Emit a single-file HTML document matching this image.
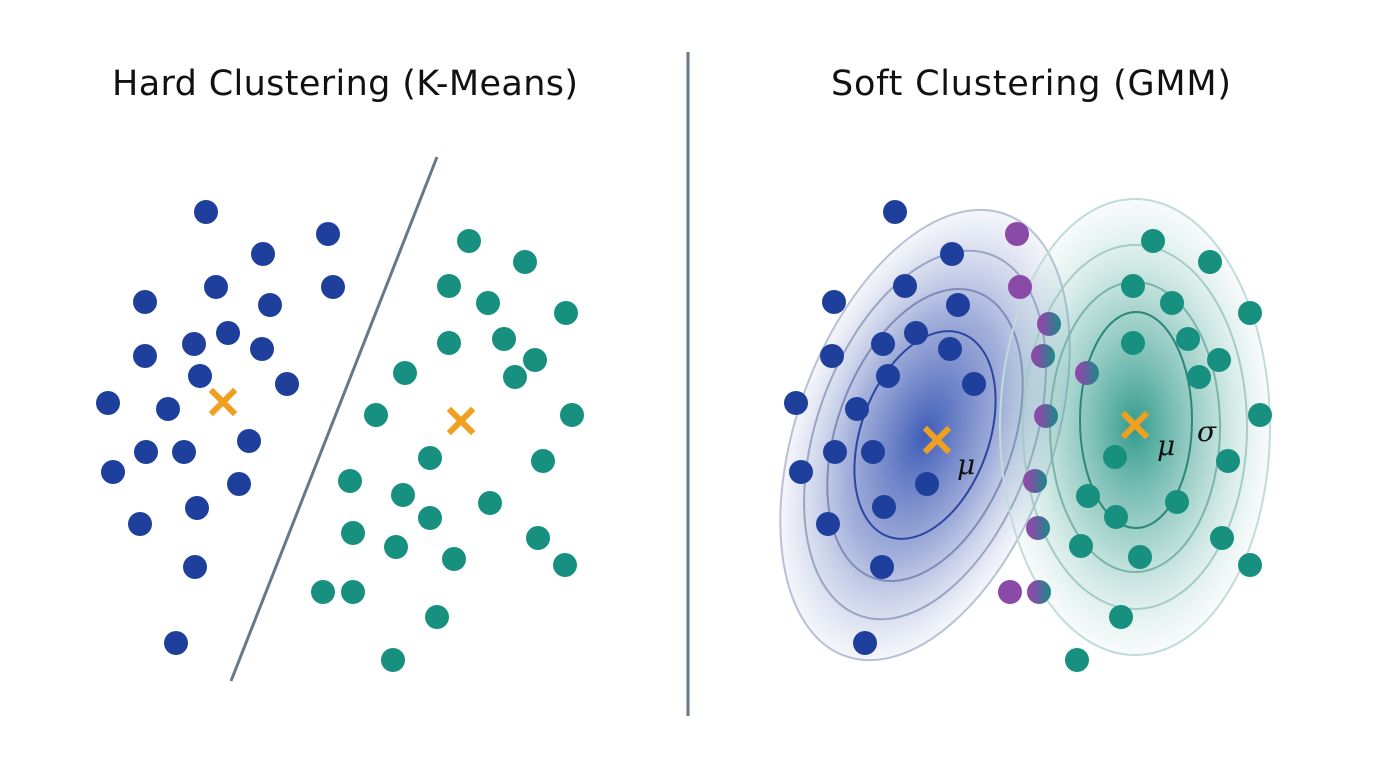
<!DOCTYPE html><html><head><style>body{margin:0;background:#fff}svg{display:block}</style></head><body>
<svg width="1376" height="768" viewBox="0 0 1376 768" xmlns="http://www.w3.org/2000/svg">
<defs>
<radialGradient id="gb"><stop offset="0" stop-color="#2a4bb0" stop-opacity=".9"/><stop offset=".55" stop-color="#4a63b8" stop-opacity=".5"/><stop offset="1" stop-color="#8090c8" stop-opacity=".08"/></radialGradient>
<radialGradient id="gt"><stop offset="0" stop-color="#1a9080" stop-opacity=".9"/><stop offset=".55" stop-color="#50aa9c" stop-opacity=".45"/><stop offset="1" stop-color="#a0d0c8" stop-opacity=".08"/></radialGradient>
<linearGradient id="pg"><stop offset=".2" stop-color="#8a4aa8"/><stop offset="1" stop-color="#1a8a88"/></linearGradient>
</defs>
<g font-family="'DejaVu Sans','Liberation Sans',sans-serif" font-size="35" fill="#111" text-anchor="middle">
<text x="345" y="95" textLength="466">Hard Clustering (K-Means)</text>
<text x="1031" y="95" textLength="400">Soft Clustering (GMM)</text>
</g>
<line x1="688" y1="52" x2="688" y2="716" stroke="#66788a" stroke-width="3"/>
<line x1="437" y1="157" x2="231" y2="681" stroke="#66788a" stroke-width="3"/>
<g fill="#1f3f9c">
<circle cx="206" cy="212" r="12"/><circle cx="263" cy="254" r="12"/><circle cx="328" cy="234" r="12"/><circle cx="333" cy="287" r="12"/><circle cx="145" cy="302" r="12"/><circle cx="216" cy="287" r="12"/><circle cx="270" cy="305" r="12"/><circle cx="228" cy="333" r="12"/><circle cx="194" cy="344" r="12"/><circle cx="262" cy="349" r="12"/><circle cx="145" cy="356" r="12"/><circle cx="200" cy="376" r="12"/><circle cx="287" cy="384" r="12"/><circle cx="108" cy="403" r="12"/><circle cx="168" cy="409" r="12"/><circle cx="249" cy="441" r="12"/><circle cx="146" cy="452" r="12"/><circle cx="184" cy="452" r="12"/><circle cx="113" cy="472" r="12"/><circle cx="239" cy="484" r="12"/><circle cx="197" cy="508" r="12"/><circle cx="140" cy="524" r="12"/><circle cx="195" cy="567" r="12"/><circle cx="176" cy="643" r="12"/>
</g>
<g fill="#17907f">
<circle cx="469" cy="241" r="12"/><circle cx="525" cy="262" r="12"/><circle cx="449" cy="286" r="12"/><circle cx="488" cy="303" r="12"/><circle cx="566" cy="313" r="12"/><circle cx="449" cy="343" r="12"/><circle cx="504" cy="339" r="12"/><circle cx="535" cy="360" r="12"/><circle cx="515" cy="377" r="12"/><circle cx="405" cy="373" r="12"/><circle cx="376" cy="415" r="12"/><circle cx="572" cy="415" r="12"/><circle cx="430" cy="458" r="12"/><circle cx="543" cy="461" r="12"/><circle cx="350" cy="481" r="12"/><circle cx="403" cy="495" r="12"/><circle cx="490" cy="503" r="12"/><circle cx="430" cy="518" r="12"/><circle cx="353" cy="533" r="12"/><circle cx="396" cy="547" r="12"/><circle cx="538" cy="538" r="12"/><circle cx="454" cy="559" r="12"/><circle cx="565" cy="565" r="12"/><circle cx="323" cy="592" r="12"/><circle cx="353" cy="592" r="12"/><circle cx="437" cy="617" r="12"/><circle cx="393" cy="660" r="12"/>
</g>
<g stroke="#f0a020" stroke-width="6" stroke-linecap="square">
<path d="M213 392l20 20M233 392l-20 20"/><path d="M451 411l20 20M471 411l-20 20"/>
</g>
<g transform="rotate(20 925 435)">
<ellipse cx="925" cy="435" rx="128" ry="235" fill="url(#gb)" stroke="#b8c0d8" stroke-width="2"/>
<ellipse cx="925" cy="435" rx="108" ry="192" fill="none" stroke="#9aa4c4" stroke-width="2"/>
<ellipse cx="925" cy="435" rx="88" ry="152" fill="none" stroke="#7f8cb8" stroke-width="2"/>
<ellipse cx="925" cy="435" rx="64" ry="108" fill="none" stroke="#2a46a0" stroke-width="2"/>
</g>
<ellipse cx="1135" cy="427" rx="135" ry="228" fill="url(#gt)" stroke="#c0dcd8" stroke-width="2"/>
<ellipse cx="1135" cy="427" rx="112" ry="182" fill="none" stroke="#a4ccc4" stroke-width="2"/>
<ellipse cx="1135" cy="427" rx="85" ry="145" fill="none" stroke="#7ab4aa" stroke-width="2"/>
<ellipse cx="1136" cy="420" rx="56" ry="108" fill="none" stroke="#2a8878" stroke-width="2"/>
<g fill="#1f3f9c">
<circle cx="895" cy="212" r="12"/><circle cx="952" cy="254" r="12"/><circle cx="905" cy="286" r="12"/><circle cx="958" cy="305" r="12"/><circle cx="834" cy="302" r="12"/><circle cx="916" cy="333" r="12"/><circle cx="883" cy="344" r="12"/><circle cx="950" cy="349" r="12"/><circle cx="832" cy="356" r="12"/><circle cx="888" cy="376" r="12"/><circle cx="974" cy="384" r="12"/><circle cx="796" cy="403" r="12"/><circle cx="857" cy="409" r="12"/><circle cx="873" cy="452" r="12"/><circle cx="835" cy="452" r="12"/><circle cx="801" cy="472" r="12"/><circle cx="927" cy="484" r="12"/><circle cx="884" cy="507" r="12"/><circle cx="828" cy="524" r="12"/><circle cx="882" cy="567" r="12"/><circle cx="865" cy="643" r="12"/>
</g>
<g fill="#8a4aa8"><circle cx="1017" cy="234" r="12"/><circle cx="1020" cy="287" r="12"/><circle cx="1010" cy="592" r="12"/></g>
<g fill="url(#pg)"><circle cx="1049" cy="324" r="12"/><circle cx="1043" cy="356" r="12"/><circle cx="1087" cy="373" r="12"/><circle cx="1046" cy="416" r="12"/><circle cx="1035" cy="481" r="12"/><circle cx="1038" cy="528" r="12"/><circle cx="1039" cy="592" r="12"/></g>
<g fill="#17907f">
<circle cx="1153" cy="241" r="12"/><circle cx="1210" cy="262" r="12"/><circle cx="1133" cy="286" r="12"/><circle cx="1172" cy="303" r="12"/><circle cx="1250" cy="313" r="12"/><circle cx="1133" cy="343" r="12"/><circle cx="1188" cy="339" r="12"/><circle cx="1219" cy="360" r="12"/><circle cx="1199" cy="377" r="12"/><circle cx="1260" cy="415" r="12"/><circle cx="1115" cy="457" r="12"/><circle cx="1228" cy="461" r="12"/><circle cx="1088" cy="496" r="12"/><circle cx="1116" cy="517" r="12"/><circle cx="1177" cy="502" r="12"/><circle cx="1222" cy="538" r="12"/><circle cx="1081" cy="546" r="12"/><circle cx="1140" cy="557" r="12"/><circle cx="1250" cy="565" r="12"/><circle cx="1121" cy="617" r="12"/><circle cx="1077" cy="660" r="12"/>
</g>
<g stroke="#f0a020" stroke-width="6" stroke-linecap="square">
<path d="M927 430l20 20M947 430l-20 20"/><path d="M1125 415l20 20M1145 415l-20 20"/>
</g>
<g font-family="'DejaVu Serif','Liberation Serif',serif" font-style="italic" font-size="28" fill="#111">
<text x="957" y="474">μ</text><text x="1157" y="455">μ</text><text x="1197" y="441">σ</text>
</g>
</svg>
</body></html>
